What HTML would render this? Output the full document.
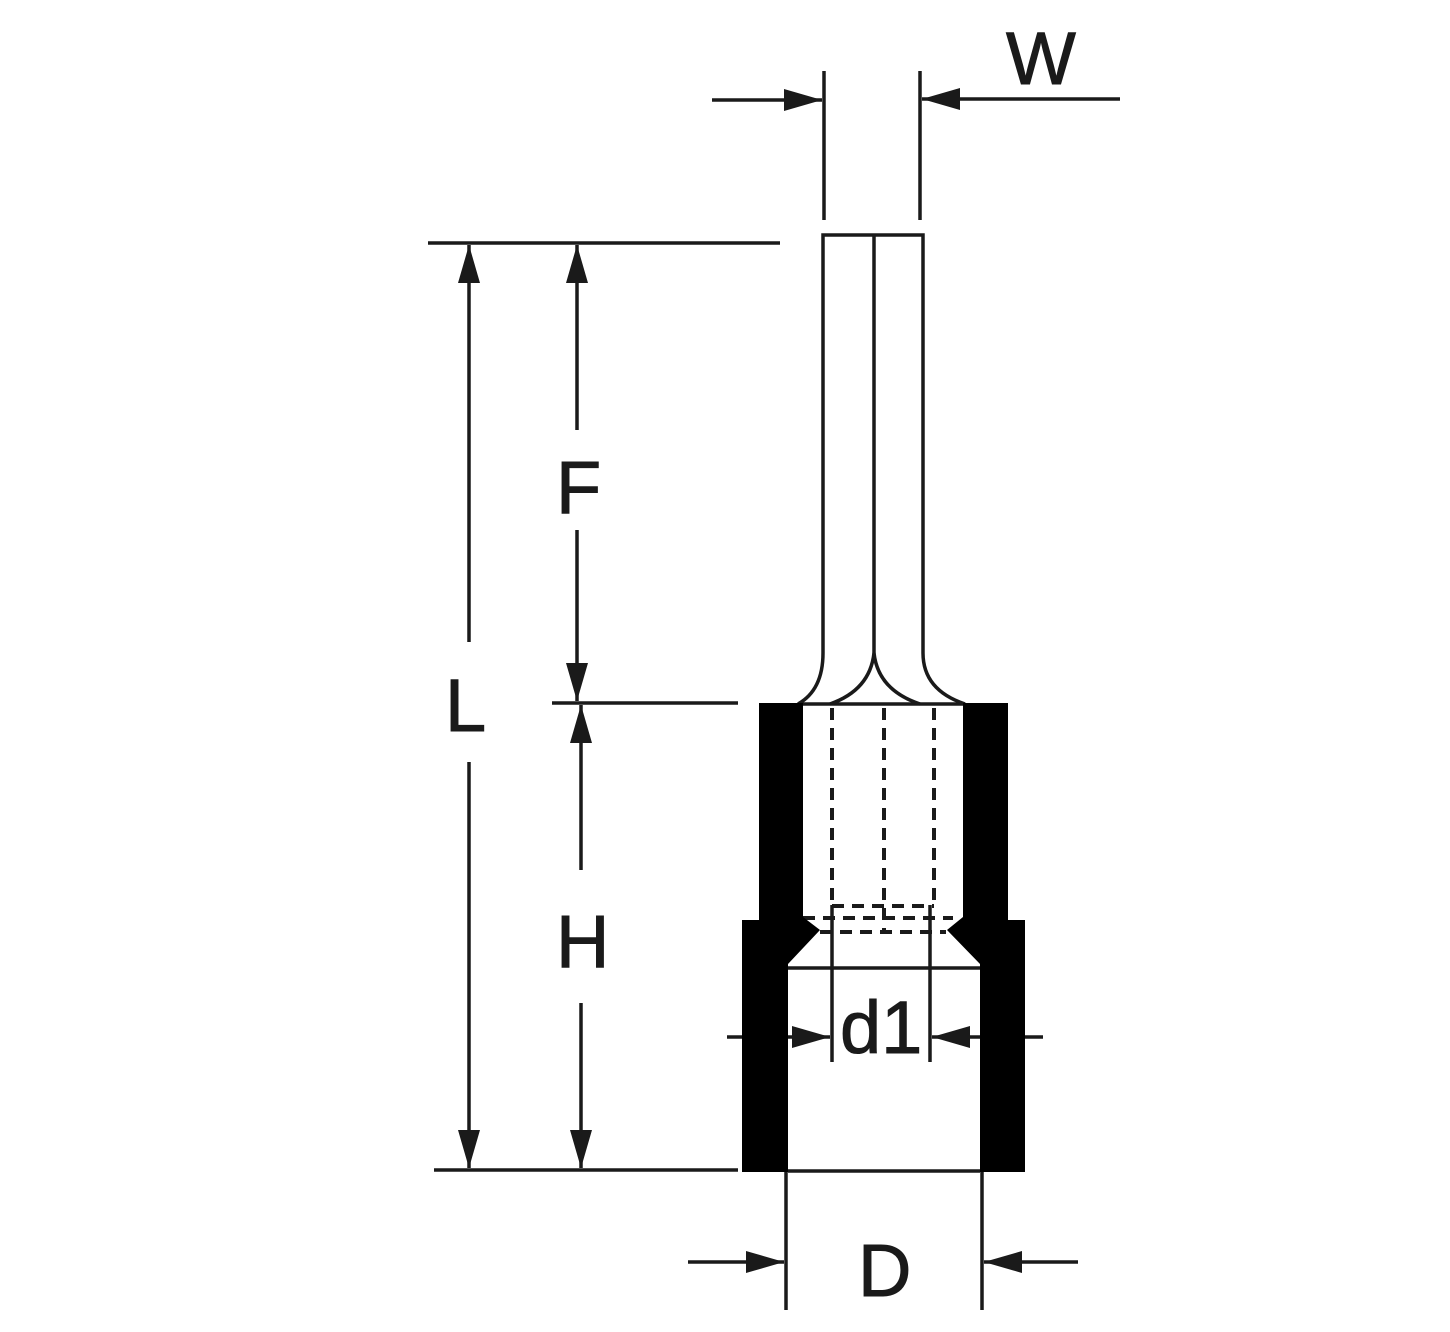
<!DOCTYPE html>
<html><head><meta charset="utf-8"><style>html,body{margin:0;padding:0;background:#fff}svg{display:block}</style></head>
<body>
<svg width="1450" height="1332" viewBox="0 0 1450 1332" xmlns="http://www.w3.org/2000/svg">
<defs>
<marker id="a" viewBox="0 0 38 22" refX="38" refY="11" markerWidth="38" markerHeight="22" markerUnits="userSpaceOnUse" orient="auto">
<path d="M0,0 L38,11 L0,22 Z" fill="#1a1a1a"/></marker>
</defs>
<g stroke="#1a1a1a" stroke-width="3.5" fill="none">
<line x1="428" y1="243" x2="780" y2="243"/>
<line x1="552" y1="703" x2="738" y2="703"/>
<line x1="434" y1="1170" x2="738" y2="1170"/>
<line x1="824" y1="71" x2="824" y2="220"/>
<line x1="920" y1="71" x2="920" y2="220"/>
<line x1="786" y1="1172" x2="786" y2="1310"/>
<line x1="982" y1="1172" x2="982" y2="1310"/>
<line x1="469" y1="642" x2="469" y2="245" marker-end="url(#a)"/>
<line x1="469" y1="762" x2="469" y2="1168" marker-end="url(#a)"/>
<line x1="577" y1="430" x2="577" y2="245" marker-end="url(#a)"/>
<line x1="577" y1="530" x2="577" y2="701" marker-end="url(#a)"/>
<line x1="581" y1="870" x2="581" y2="705" marker-end="url(#a)"/>
<line x1="581" y1="1003" x2="581" y2="1168" marker-end="url(#a)"/>
<line x1="712" y1="100" x2="822" y2="100" marker-end="url(#a)"/>
<line x1="1120" y1="99" x2="922" y2="99" marker-end="url(#a)"/>
<line x1="727" y1="1037" x2="830" y2="1037" marker-end="url(#a)"/>
<line x1="1043" y1="1037" x2="932" y2="1037" marker-end="url(#a)"/>
<line x1="688" y1="1262" x2="784" y2="1262" marker-end="url(#a)"/>
<line x1="1078" y1="1262" x2="984" y2="1262" marker-end="url(#a)"/>
<path d="M823,653 L823,235 L923,235 L923,653"/>
<line x1="874" y1="235" x2="874" y2="653"/>
<path d="M823,653 Q823,690 798,704"/>
<path d="M923,653 Q923,690 965,704"/>
<path d="M874,653 Q870,690 830,704"/>
<path d="M874,653 Q878,690 920,704"/>
<line x1="798" y1="704" x2="965" y2="704"/>
<line x1="832" y1="905" x2="832" y2="1062"/>
<line x1="930" y1="905" x2="930" y2="1062"/>
<line x1="788" y1="968" x2="980" y2="968"/>
<line x1="788" y1="1171" x2="980" y2="1171"/>
</g>
<g stroke="#1a1a1a" stroke-width="4" fill="none" stroke-dasharray="12,8">
<line x1="832" y1="708" x2="832" y2="905"/>
<line x1="884" y1="708" x2="884" y2="930"/>
<line x1="934" y1="708" x2="934" y2="905"/>
<line x1="832" y1="906" x2="934" y2="906"/>
<line x1="803" y1="918" x2="953" y2="918"/>
<line x1="820" y1="932" x2="946" y2="932"/>
</g>
<path fill="#000" d="M759,703 L803,703 L803,917 L820,930 L788,964 L788,1172 L742,1172 L742,920 L759,920 Z"/>
<path fill="#000" d="M963,703 L1008,703 L1008,920 L1025,920 L1025,1172 L980,1172 L980,964 L947,930 L963,917 Z"/>
<g font-family="Liberation Sans, Arial, sans-serif" font-size="74" fill="#1a1a1a" stroke="#1a1a1a" stroke-width="1">
<text x="1006" y="84">W</text>
<text x="556" y="513">F</text>
<text x="445" y="731">L</text>
<text x="556" y="967">H</text>
<text x="840" y="1053">d1</text>
<text x="858" y="1296">D</text>
</g>
</svg>
</body></html>
